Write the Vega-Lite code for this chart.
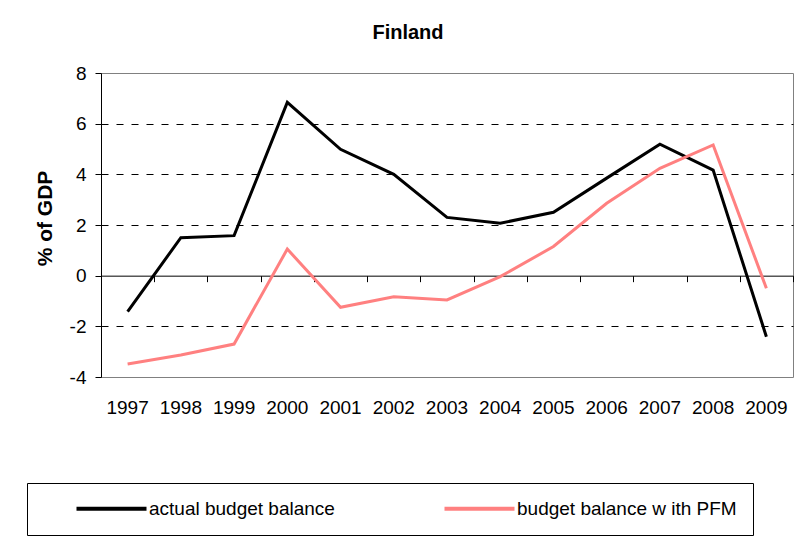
{
  "$schema": "https://vega.github.io/schema/vega-lite/v6.json",
  "width": 692,
  "height": 304,
  "autosize": "none",
  "padding": {"left": 101, "top": 73, "right": 8, "bottom": 174},
  "background": "white",
  "config": {
    "font": "Liberation Sans",
    "view": {"stroke": "#808080", "strokeWidth": 1}
  },
  "title": {
    "text": "Finland",
    "fontSize": 20,
    "fontWeight": "bold",
    "font": "Liberation Sans",
    "color": "black",
    "anchor": "middle",
    "dx": -39,
    "dy": 28,
    "offset": 33,
    "baseline": "alphabetic"
  },
  "data": {
    "values": [
      {"year": "1997", "series": "actual budget balance", "value": -1.42},
      {"year": "1998", "series": "actual budget balance", "value": 1.5},
      {"year": "1999", "series": "actual budget balance", "value": 1.58},
      {"year": "2000", "series": "actual budget balance", "value": 6.84},
      {"year": "2001", "series": "actual budget balance", "value": 4.99},
      {"year": "2002", "series": "actual budget balance", "value": 4.0},
      {"year": "2003", "series": "actual budget balance", "value": 2.3},
      {"year": "2004", "series": "actual budget balance", "value": 2.07},
      {"year": "2005", "series": "actual budget balance", "value": 2.5},
      {"year": "2006", "series": "actual budget balance", "value": 3.85},
      {"year": "2007", "series": "actual budget balance", "value": 5.19},
      {"year": "2008", "series": "actual budget balance", "value": 4.17},
      {"year": "2009", "series": "actual budget balance", "value": -2.41},
      {"year": "1997", "series": "budget balance w ith PFM", "value": -3.49},
      {"year": "1998", "series": "budget balance w ith PFM", "value": -3.13},
      {"year": "1999", "series": "budget balance w ith PFM", "value": -2.7},
      {"year": "2000", "series": "budget balance w ith PFM", "value": 1.05},
      {"year": "2001", "series": "budget balance w ith PFM", "value": -1.25},
      {"year": "2002", "series": "budget balance w ith PFM", "value": -0.83},
      {"year": "2003", "series": "budget balance w ith PFM", "value": -0.96},
      {"year": "2004", "series": "budget balance w ith PFM", "value": -0.04},
      {"year": "2005", "series": "budget balance w ith PFM", "value": 1.15},
      {"year": "2006", "series": "budget balance w ith PFM", "value": 2.86},
      {"year": "2007", "series": "budget balance w ith PFM", "value": 4.24},
      {"year": "2008", "series": "budget balance w ith PFM", "value": 5.16},
      {"year": "2009", "series": "budget balance w ith PFM", "value": -0.5}
    ]
  },
  "layer": [
    {
      "transform": [{"filter": "datum.series == 'actual budget balance'"}],
      "mark": {"type": "line", "strokeWidth": 3},
      "encoding": {
        "x": {
          "field": "year",
          "type": "ordinal",
          "bandPosition": 0.5,
          "scale": {"type": "band", "paddingInner": 0, "paddingOuter": 0},
          "axis": {
            "orient": "bottom",
            "title": null,
            "labelAngle": 0,
            "ticks": false,
            "tickSize": 0,
            "domain": false,
            "grid": false,
            "labelPadding": 36,
            "labelBaseline": "alphabetic",
            "labelFontSize": 19,
            "labelColor": "black"
          }
        },
        "y": {
          "field": "value",
          "type": "quantitative",
          "scale": {"domain": [-4, 8], "nice": false, "zero": false},
          "axis": {
            "title": "% of GDP",
            "titleFontSize": 21,
            "titleFontWeight": "bold",
            "titleColor": "black",
            "titleAngle": -90,
            "titleX": -56,
            "titleY": 145,
            "titleBaseline": "middle",
            "titleAlign": "center",
            "values": [-4, -2, 0, 2, 4, 6, 8],
            "labelExpr": "datum.value < 0 ? '-' + abs(datum.value) : '' + datum.value",
            "labelFontSize": 19,
            "labelColor": "black",
            "labelPadding": 9,
            "tickSize": 6,
            "tickColor": "black",
            "domainColor": "black",
            "grid": true,
            "gridColor": "black",
            "gridDash": [7, 8],
            "gridOpacity": {
              "condition": {"test": "datum.value == 0 || datum.value == 8 || datum.value == -4", "value": 0},
              "value": 1
            }
          }
        },
        "color": {
          "field": "series",
          "type": "nominal",
          "scale": {
            "domain": ["actual budget balance", "budget balance w ith PFM"],
            "range": ["#000000", "#FF8080"]
          },
          "legend": {
            "orient": "none",
            "legendX": -74,
            "legendY": 410,
            "direction": "horizontal",
            "title": null,
            "strokeColor": "black",
            "padding": 16,
            "symbolType": "M-5,0H5",
            "symbolSize": 196,
            "symbolStrokeWidth": 4,
            "symbolOffset": 59,
            "labelOffset": 28,
            "labelFontSize": 19,
            "labelColor": "black",
            "columnPadding": 76,
            "labelLimit": 400
          }
        }
      }
    },
    {
      "transform": [{"filter": "datum.series != 'actual budget balance'"}],
      "mark": {"type": "line", "strokeWidth": 3},
      "encoding": {
        "x": {
          "field": "year",
          "type": "ordinal",
          "bandPosition": 0.5,
          "axis": {
            "orient": "top",
            "title": null,
            "labels": false,
            "ticks": true,
            "tickBand": "extent",
            "tickSize": -6,
            "tickColor": "black",
            "domain": true,
            "domainColor": "black",
            "offset": -202.67,
            "grid": false
          }
        },
        "y": {"field": "value", "type": "quantitative"},
        "color": {"field": "series", "type": "nominal"}
      }
    }
  ],
  "resolve": {"axis": {"x": "independent"}}
}
